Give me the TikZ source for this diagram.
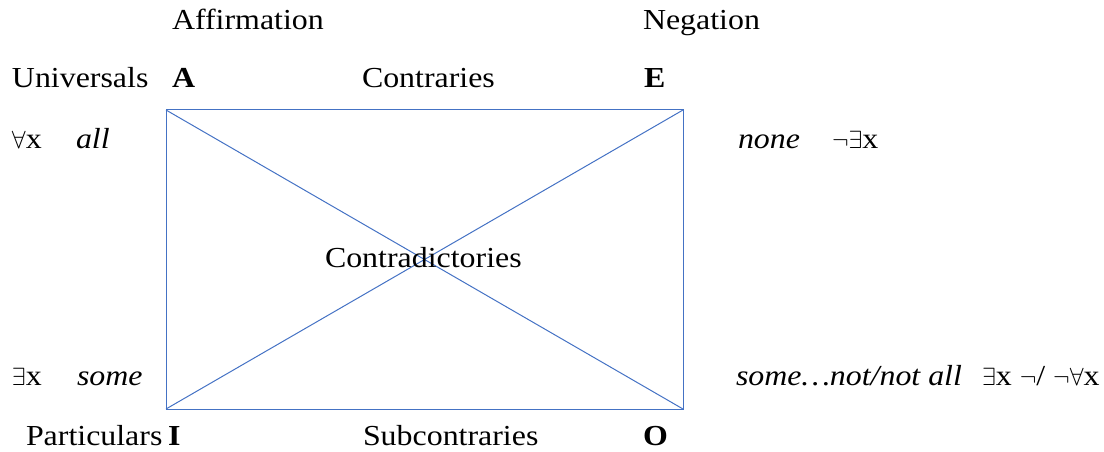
\documentclass[tikz,border=0pt]{standalone}
\usepackage{fontspec}
\setmainfont{Liberation Serif}[
  FakeStretch=1.1,
  UprightFont=*,
  BoldFont=* Bold,
  ItalicFont=* Italic,
  BoldItalicFont=* Bold Italic]
\definecolor{edgeblue}{HTML}{4472C4}
\begin{document}
\begin{tikzpicture}[x=1pt,y=-1pt,
  lbl/.style={anchor=base west,inner sep=0pt,outer sep=0pt,font=\fontsize{29}{34}\selectfont},
  edge/.style={draw=edgeblue,line width=1pt}]
\useasboundingbox (0,0) rectangle (1104,452);
% corners of the square of opposition
\coordinate (cA) at (166,110);
\coordinate (cE) at (683,110);
\coordinate (cI) at (166,409);
\coordinate (cO) at (683,409);
\draw[edge] (cA) -- (cE) -- (cO) -- (cI) -- cycle;
\draw[edge] (cA) -- (cO);
\draw[edge] (cE) -- (cI);
% column headings
\node[lbl] (aff) at (172,30) {Affirmation};
\node[lbl] (neg) at (643,30) {Negation};
% top row
\node[lbl] (univ) at (12,88) {Universals};
\node[lbl] (lA) at (172,88) {\textbf{A}};
\node[lbl] (contr) at (362,88) {Contraries};
\node[lbl] (lE) at (644,88) {\textbf{E}};
% universal quantifiers
\node[lbl] (fa) at (12,148) {$\forall$x};
\node[lbl] (all) at (76,148) {\textit{all}};
\node[lbl] (none) at (738,148) {\textit{none}};
\node[lbl] (nex) at (832,148) {$\neg\exists$x};
% centre
\node[lbl] (cd) at (325,267) {Contradictories};
% particular quantifiers
\node[lbl] (ex) at (12,385) {$\exists$x};
\node[lbl] (some) at (77,385) {\textit{some}};
\node[lbl] (snot) at (736,385) {\textit{some\ldots not/not all}};
\node[lbl] (exn) at (982,385) {$\exists$x $\neg$/ $\neg\forall$x};
% bottom row
\node[lbl] (part) at (26,445) {Particulars};
\node[lbl] (lI) at (168,445) {\textbf{I}};
\node[lbl] (sub) at (363,445) {Subcontraries};
\node[lbl] (lO) at (643,445) {\textbf{O}};
\end{tikzpicture}
\end{document}
